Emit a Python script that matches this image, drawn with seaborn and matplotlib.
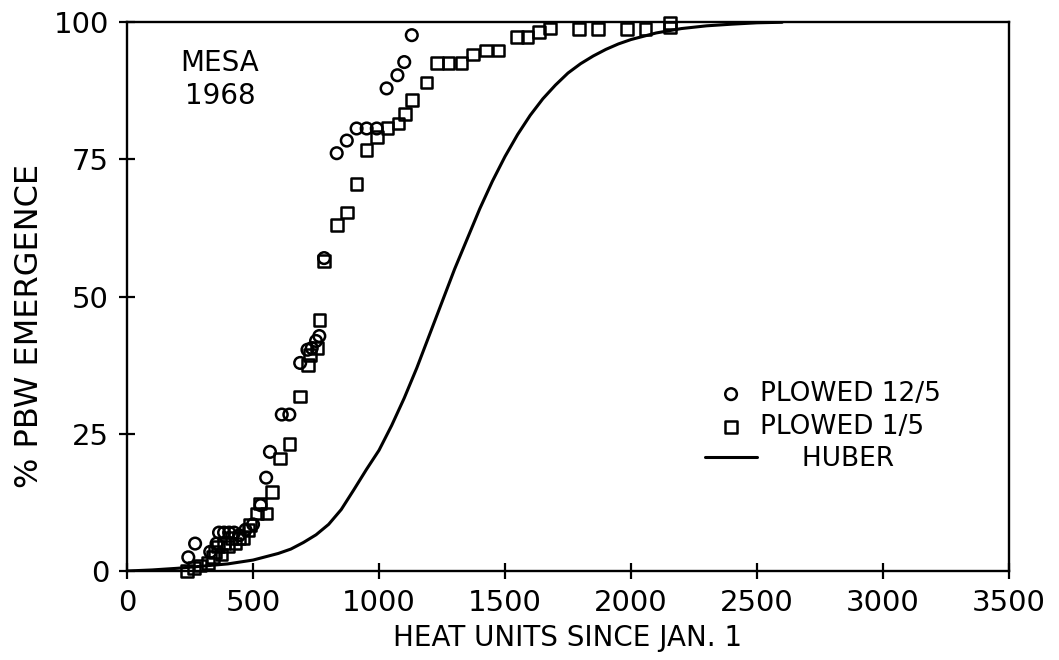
"""PBW emergence vs heat units, Mesa 1968 — redraw of a scanned figure."""

import pandas as pd
import matplotlib
import matplotlib.pyplot as plt
import seaborn as sns

matplotlib.use("Agg")

# PLOWED 12/5 (circles)
dec_heat = [243, 270, 330, 355, 365, 385, 405, 425, 445, 470, 500, 530, 552,
            567, 614, 644, 687, 716, 733, 750, 763, 782, 832, 872, 911, 951,
            991, 1030, 1073, 1100, 1130]
dec_pct = [2.5, 5.0, 3.5, 5.0, 7.0, 7.0, 7.0, 7.0, 6.5, 7.5, 8.5, 12.0, 17.0,
           21.7, 28.5, 28.5, 37.9, 40.3, 40.6, 41.9, 42.8, 57.0, 76.1, 78.4,
           80.6, 80.6, 80.6, 87.9, 90.3, 92.7, 97.6]

# PLOWED 1/5 (squares)
jan_heat = [237, 265, 290, 320, 340, 350, 360, 375, 385, 400, 415, 430, 445,
            460, 482, 488, 515, 528, 554, 574, 607, 644, 687, 719, 726, 755,
            763, 782, 832, 872, 911, 951, 993, 1033, 1077, 1103, 1132, 1189,
            1231, 1275, 1328, 1374, 1425, 1474, 1548, 1590, 1636, 1679, 1794,
            1870, 1983, 2058, 2155, 2155]
jan_pct = [0.0, 0.5, 1.0, 1.5, 2.5, 3.5, 4.5, 3.0, 5.0, 4.5, 6.0, 5.0, 6.0,
           6.0, 7.5, 8.4, 10.5, 12.3, 10.5, 14.4, 20.5, 23.1, 31.8, 37.5, 39.3,
           40.6, 45.7, 56.5, 63.0, 65.3, 70.5, 76.7, 79.1, 80.7, 81.5, 83.2,
           85.8, 89.0, 92.5, 92.5, 92.5, 94.1, 94.8, 94.8, 97.3, 97.3, 98.2,
           98.8, 98.7, 98.7, 98.7, 98.7, 99.0, 99.8]

# HUBER curve
huber_heat = [0, 100, 200, 300, 400, 500, 600, 650, 700, 750, 800, 850, 900,
              950, 1000, 1050, 1100, 1150, 1200, 1250, 1300, 1350, 1400, 1450,
              1500, 1550, 1600, 1650, 1700, 1750, 1800, 1850, 1900, 1950, 2000,
              2100, 2200, 2300, 2400, 2500, 2600]
huber_pct = [0.0, 0.2, 0.5, 0.9, 1.3, 2.0, 3.2, 4.0, 5.2, 6.6, 8.5, 11.2, 14.8,
             18.5, 22.0, 26.5, 31.5, 37.0, 43.0, 49.0, 55.0, 60.5, 66.0, 71.0,
             75.5, 79.5, 83.0, 86.0, 88.5, 90.7, 92.4, 93.8, 95.0, 96.0, 96.8,
             98.0, 98.8, 99.3, 99.6, 99.85, 99.95]

X_TICKS = [0, 500, 1000, 1500, 2000, 2500, 3000, 3500]
Y_TICKS = [0, 25, 50, 75, 100]


def main() -> None:
    sns.set_style("ticks")
    plt.rcParams["font.family"] = ["DejaVu Sans"]
    plt.rcParams["text.color"] = "black"
    plt.rcParams["axes.labelcolor"] = "black"
    plt.rcParams["axes.linewidth"] = 1.7
    plt.rcParams["axes.edgecolor"] = "black"

    dec = pd.DataFrame({"heat": dec_heat, "pct": dec_pct})
    jan = pd.DataFrame({"heat": jan_heat, "pct": jan_pct})
    huber = pd.DataFrame({"heat": huber_heat, "pct": huber_pct})

    fig = plt.figure(figsize=(10.59, 6.60), dpi=100)
    ax = fig.add_axes([0.12, 0.1348, 0.8327, 0.8319])

    sns.lineplot(data=huber, x="heat", y="pct", ax=ax, color="black",
                 linewidth=2.2, label="     HUBER", sort=False, zorder=2)
    sns.scatterplot(data=dec, x="heat", y="pct", ax=ax, marker="o", s=70,
                    facecolor="none", edgecolor="black", linewidth=1.8,
                    label="PLOWED 12/5", clip_on=False, zorder=3)
    sns.scatterplot(data=jan, x="heat", y="pct", ax=ax, marker="s", s=70,
                    facecolor="none", edgecolor="black", linewidth=1.8,
                    label="PLOWED 1/5", clip_on=False, zorder=3)

    ax.set_xlim(0, 3500)
    ax.set_ylim(0, 100)
    ax.set_xticks(X_TICKS)
    ax.set_yticks(Y_TICKS)

    ax.set_xlabel("HEAT UNITS SINCE JAN. 1", fontsize=20, labelpad=5)
    ax.set_ylabel("% PBW EMERGENCE", fontsize=23)
    ax.yaxis.set_label_coords(-0.093, 0.446)

    ax.text(369, 89.5, "MESA\n1968", fontsize=20, ha="center", va="center",
            linespacing=1.2)

    handles, labels = ax.get_legend_handles_labels()
    order = [labels.index("PLOWED 12/5"), labels.index("PLOWED 1/5"),
             labels.index("     HUBER")]
    ax.legend([handles[i] for i in order], [labels[i] for i in order],
              loc="upper left", bbox_to_anchor=(0.655, 0.346), frameon=False,
              fontsize=19, handlelength=2.0, handletextpad=0.1,
              labelspacing=0.25, borderpad=0, borderaxespad=0)

    # ticks crossing the axis lines, set last so nothing overrides them
    ax.tick_params(axis="both", direction="inout", length=12, width=1.6,
                   labelsize=21, color="black", labelcolor="black", pad=7)
    ax.xaxis.set_zorder(4)
    ax.yaxis.set_zorder(4)

    fig.savefig("out.png", dpi=100)
    plt.close(fig)


if __name__ == "__main__":
    main()
